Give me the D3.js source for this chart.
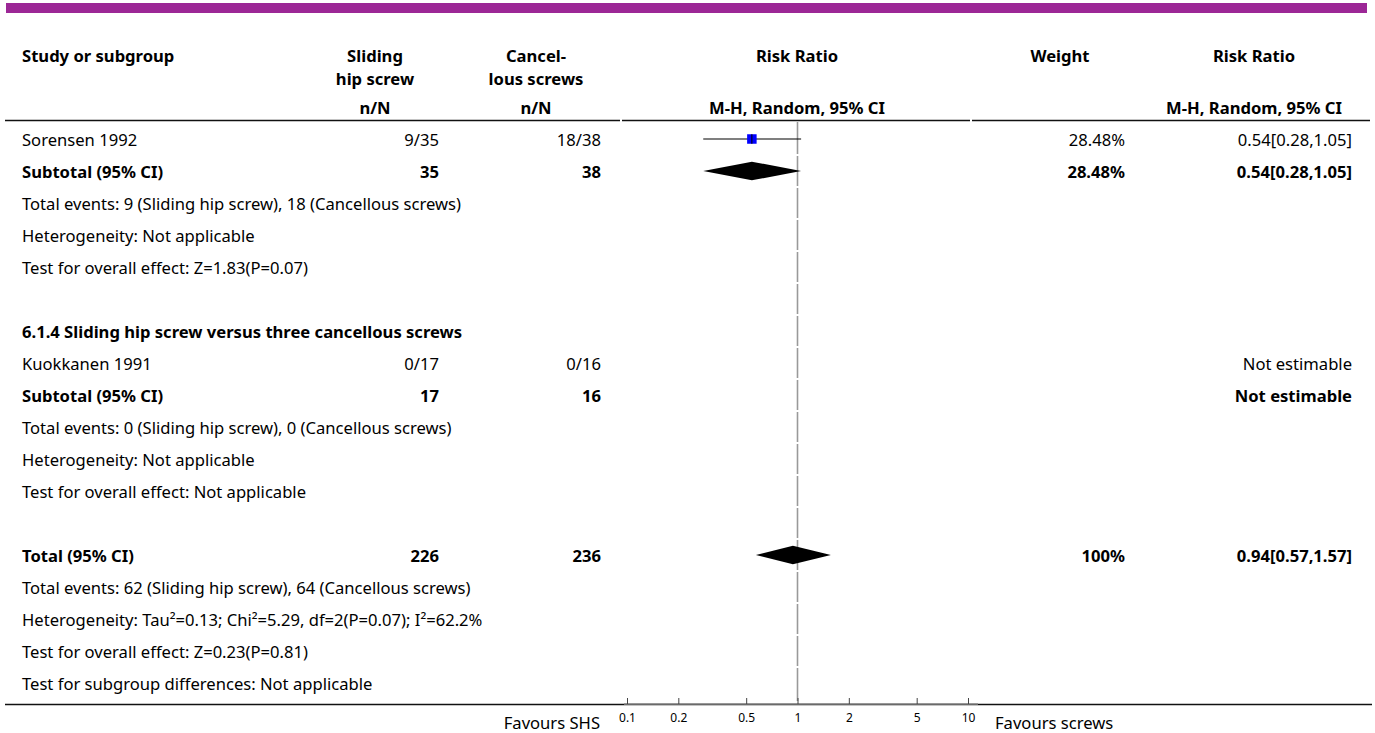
<!DOCTYPE html>
<html>
<head>
<meta charset="utf-8">
<script src="https://cdn.jsdelivr.net/npm/d3@7"></script>
<style>
  html, body { margin: 0; padding: 0; background: #fff; }
  svg { display: block; }
  text { font-family: "Source Sans Pro", "Noto Sans", sans-serif; fill: #000; }
</style>
</head>
<body>
<svg id="chart" width="1375" height="733"></svg>
<script>
// ---- Forest plot content ----
const rowLabels = [
  "Sorensen 1992",
  "Subtotal (95% CI)",
  "Total events: 9 (Sliding hip screw), 18 (Cancellous screws)",
  "Heterogeneity: Not applicable",
  "Test for overall effect: Z=1.83(P=0.07)",
  "",
  "6.1.4 Sliding hip screw versus three cancellous screws",
  "Kuokkanen 1991",
  "Subtotal (95% CI)",
  "Total events: 0 (Sliding hip screw), 0 (Cancellous screws)",
  "Heterogeneity: Not applicable",
  "Test for overall effect: Not applicable",
  "",
  "Total (95% CI)",
  "Total events: 62 (Sliding hip screw), 64 (Cancellous screws)",
  "Heterogeneity: Tau\u00b2=0.13; Chi\u00b2=5.29, df=2(P=0.07); I\u00b2=62.2%",
  "Test for overall effect: Z=0.23(P=0.81)",
  "Test for subgroup differences: Not applicable"
];
const boldRows = [1, 6, 8, 13];

const shsValues   = ["9/35", "35", "", "", "", "", "", "0/17", "17", "", "", "", "", "226", "", "", "", ""];
const screwValues = ["18/38", "38", "", "", "", "", "", "0/16", "16", "", "", "", "", "236", "", "", "", ""];
const weightValues = ["28.48%", "28.48%", "", "", "", "", "", "", "", "", "", "", "", "100%", "", "", "", ""];
const estimableText = ["", "", "", "", "", "", "", "Not estimable", "Not estimable", "", "", "", "", "", "", "", "", ""];

// Risk ratio estimates drawn on the plot (row index, shape, RR, 95% CI)
const markRows  = [0, 1, 13];
const markShape = ["square", "diamond", "diamond"];
const rrPoint   = [0.54, 0.54, 0.94];
const rrLow     = [0.28, 0.28, 0.57];
const rrHigh    = [1.05, 1.05, 1.57];

const axisTicks = [0.1, 0.2, 0.5, 1, 2, 5, 10];
const favoursLeft = "Favours SHS";
const favoursRight = "Favours screws";

// ---- Layout ----
const FS = 16.6;
const svg = d3.select("#chart");
const rowTop = 123, rowStep = 32;
const rowY = i => rowTop + rowStep * i + 16;
const x = d3.scaleLog().domain([0.1, 10]).range([627, 968]);
const fmt = v => v.toFixed(2);

// top band
svg.append("rect").attr("x", 6).attr("y", 3).attr("width", 1361).attr("height", 10).attr("fill", "#9c2796");

// header
const hdr = svg.append("g").attr("font-size", FS);
function htext(txt, xx, yy, anchor) {
  hdr.append("text").attr("x", xx).attr("y", yy).attr("text-anchor", anchor || "middle")
    .attr("dominant-baseline", "central").attr("font-weight", "bold").text(txt);
}
htext("Study or subgroup", 22, 55, "start");
htext("Sliding", 375, 55); htext("hip screw", 375, 78); htext("n/N", 375, 107);
htext("Cancel-", 536, 55); htext("lous screws", 536, 78); htext("n/N", 536, 107);
htext("Risk Ratio", 797, 55); htext("M-H, Random, 95% CI", 797, 107);
htext("Weight", 1060, 55);
htext("Risk Ratio", 1254, 55); htext("M-H, Random, 95% CI", 1254, 107);

// header rule, in column segments
[[5, 620], [622, 970], [972, 1370]].forEach(([a, b]) => {
  svg.append("line").attr("x1", a).attr("x2", b).attr("y1", 120.5).attr("y2", 120.5)
    .attr("stroke", "#111").attr("stroke-width", 1.6);
});

// line of no effect, broken at row boundaries
d3.range(rowLabels.length).forEach(i => {
  const top = i === 0 ? 122 : rowTop + rowStep * i + 1;
  const bot = rowTop + rowStep * (i + 1) - 1 + (i === rowLabels.length - 1 ? 3 : 0);
  svg.append("line").attr("x1", x(1)).attr("x2", x(1)).attr("y1", top).attr("y2", bot)
    .attr("stroke", "#999").attr("stroke-width", 1.6);
});

// rows
const rows = svg.append("g").attr("font-size", FS);
rowLabels.forEach((lbl, i) => {
  const bold = boldRows.includes(i);
  const y = rowY(i);
  const t = (txt, xx, anchor) => {
    if (!txt) return;
    rows.append("text").attr("x", xx).attr("y", y).attr("text-anchor", anchor)
      .attr("dominant-baseline", "central").attr("font-weight", bold ? "bold" : "normal").text(txt);
  };
  t(lbl, 22, "start");
  t(shsValues[i], 439, "end");
  t(screwValues[i], 601, "end");
  t(weightValues[i], 1125, "end");
  t(estimableText[i], 1352, "end");
});

// estimates: marks and value labels
markRows.forEach((r, k) => {
  const y = rowY(r);
  const bold = boldRows.includes(r);
  rows.append("text").attr("x", 1352).attr("y", y).attr("text-anchor", "end")
    .attr("dominant-baseline", "central").attr("font-weight", bold ? "bold" : "normal")
    .text(`${fmt(rrPoint[k])}[${fmt(rrLow[k])},${fmt(rrHigh[k])}]`);
  if (markShape[k] === "square") {
    svg.append("line").attr("x1", x(rrLow[k])).attr("x2", x(rrHigh[k])).attr("y1", y).attr("y2", y)
      .attr("stroke", "#000").attr("stroke-width", 1.2);
    const s = 9.5;
    svg.append("rect").attr("x", x(rrPoint[k]) - s / 2).attr("y", y - s / 2).attr("width", s).attr("height", s)
      .attr("fill", "#0000ff");
    svg.append("line").attr("x1", x(rrPoint[k])).attr("x2", x(rrPoint[k])).attr("y1", y - s / 2).attr("y2", y + s / 2)
      .attr("stroke", "#000").attr("stroke-width", 1);
  } else {
    const h = 9.3;
    const pts = [[x(rrLow[k]), y], [x(rrPoint[k]), y - h], [x(rrHigh[k]), y], [x(rrPoint[k]), y + h]];
    svg.append("path").attr("d", d3.line()(pts) + "Z").attr("fill", "#000");
  }
});

// bottom rule and axis
svg.append("line").attr("x1", 5).attr("x2", 1372).attr("y1", 704.5).attr("y2", 704.5)
  .attr("stroke", "#111").attr("stroke-width", 1.6);
const axisG = svg.append("g").attr("transform", "translate(0,704)");
axisG.append("line").attr("x1", 624).attr("x2", 978).attr("y1", 0).attr("y2", 0)
  .attr("stroke", "#888").attr("stroke-width", 1.6);
const axis = d3.axisTop(x).tickValues(axisTicks).tickSize(6).tickFormat(d3.format("")).tickSizeOuter(0);
const ag = axisG.append("g").call(axis);
ag.select(".domain").remove();
ag.selectAll(".tick line").attr("stroke", "#444").attr("stroke-width", 1);
ag.selectAll(".tick text").attr("y", 18).attr("dy", 0).attr("font-size", 12)
  .attr("font-family", "\"Source Sans Pro\", \"Noto Sans\", sans-serif").attr("fill", "#000");

svg.append("text").attr("x", 600).attr("y", 722).attr("text-anchor", "end").attr("font-size", FS)
  .attr("dominant-baseline", "central").text(favoursLeft);
svg.append("text").attr("x", 995).attr("y", 722).attr("text-anchor", "start").attr("font-size", FS)
  .attr("dominant-baseline", "central").text(favoursRight);
</script>
</body>
</html>
